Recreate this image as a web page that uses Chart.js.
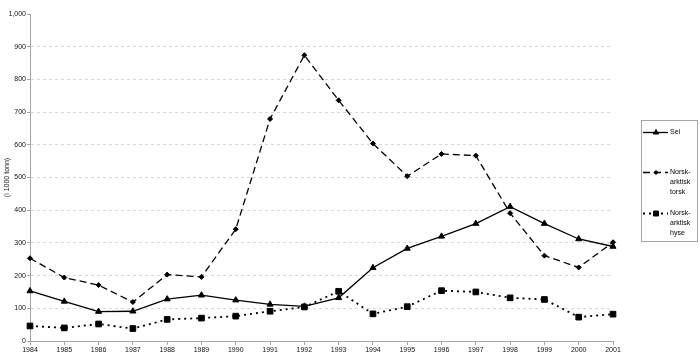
<!DOCTYPE html>
<html>
<head>
<meta charset="utf-8">
<script src="https://cdn.jsdelivr.net/npm/chart.js@4"></script>
<style>
  body { margin: 0; background: #fff; }
  #wrap { width: 700px; height: 362px; }
</style>
</head>
<body>
<div id="wrap"><canvas id="fishChart" width="700" height="362"></canvas></div>
<script>
// Data
const years = ['1984', '1985', '1986', '1987', '1988', '1989', '1990', '1991', '1992',
               '1993', '1994', '1995', '1996', '1997', '1998', '1999', '2000', '2001'];
const sei = [153, 121, 90, 91, 128, 140, 125, 112, 106, 132, 224, 283, 320, 359, 411, 359, 312, 289];
const torsk = [253, 194, 171, 119, 203, 196, 342, 679, 874, 736, 604, 504, 572, 567, 391, 261, 225, 302];
const hyse = [46, 40, 52, 38, 66, 70, 76, 91, 104, 152, 83, 105, 154, 150, 132, 127, 73, 82];
const seriesNames = [['Sei'], ['Norsk-', 'arktisk', 'torsk'], ['Norsk-', 'arktisk', 'hyse']];
const yTicks = [0, 100, 200, 300, 400, 500, 600, 700, 800, 900, 1000];
const yTitle = '(i 1000 tonn)';

const FONT = 'Liberation Sans, Arial, sans-serif';
const AXIS_GRAY = '#a6a6a6';

// Legend drawn by hand so it can use multi-line labels inside a framed box
const boxLegend = {
    id: 'boxLegend',
    afterDraw(chart) {
        const ctx = chart.ctx;
        const rowY = [132.5, 172.5, 213.5];
        ctx.save();
        ctx.strokeStyle = AXIS_GRAY;
        ctx.lineWidth = 1;
        ctx.strokeRect(641.5, 120.5, 56, 121);
        ctx.font = '7px ' + FONT;
        ctx.textBaseline = 'middle';
        ctx.textAlign = 'left';
        chart.data.datasets.forEach((ds, i) => {
            const y = rowY[i];
            ctx.save();
            ctx.strokeStyle = ds.borderColor;
            ctx.lineWidth = ds.borderWidth;
            ctx.setLineDash(ds.borderDash || []);
            ctx.beginPath();
            ctx.moveTo(643, y);
            ctx.lineTo(668, y);
            ctx.stroke();
            ctx.restore();
            ctx.save();
            ctx.fillStyle = ds.pointBackgroundColor;
            ctx.strokeStyle = ds.pointBorderColor;
            Chart.helpers.drawPoint(ctx, {
                pointStyle: ds.pointStyle,
                radius: ds.pointRadius - 0.5,
                rotation: 0,
                borderWidth: 1
            }, 656, y);
            ctx.restore();
            ctx.fillStyle = '#000';
            ds.legendLines.forEach((t, k) => ctx.fillText(t, 670, y + k * 10));
        });
        ctx.restore();
    }
};

function makeSeries(name, values, style, radius, dash, width) {
    return {
        label: name.join(' '),
        legendLines: name,
        data: values,
        borderColor: '#000',
        borderWidth: width,
        borderDash: dash,
        pointStyle: style,
        pointRadius: radius,
        pointBackgroundColor: '#000',
        pointBorderColor: '#000',
        pointBorderWidth: 1,
        tension: 0,
        fill: false
    };
}

new Chart(document.getElementById('fishChart'), {
    type: 'line',
    data: {
        labels: years,
        datasets: [
            makeSeries(seriesNames[0], sei, 'triangle', 3.5, [], 1.3),
            makeSeries(seriesNames[1], torsk, 'rectRot', 2.5, [7, 4], 1.3),
            makeSeries(seriesNames[2], hyse, 'rect', 4, [2, 4], 1.8)
        ]
    },
    options: {
        responsive: false,
        animation: false,
        devicePixelRatio: 1,
        layout: { padding: { top: 14, right: 87, left: 3, bottom: 0 } },
        plugins: {
            legend: { display: false },
            tooltip: { enabled: false }
        },
        scales: {
            x: {
                offset: false,
                grid: {
                    drawOnChartArea: false,
                    color: AXIS_GRAY,
                    tickLength: 4
                },
                border: { color: AXIS_GRAY },
                ticks: {
                    color: '#111',
                    font: { family: FONT, size: 7 },
                    maxRotation: 0,
                    autoSkip: false,
                    padding: 1
                },
                afterFit(scale) { scale.height = 21; }
            },
            y: {
                min: 0,
                max: 1000,
                afterBuildTicks(scale) { scale.ticks = yTicks.map(v => ({ value: v })); },
                grid: {
                    color: ctx => (ctx.tick && (ctx.tick.value === 0 || ctx.tick.value === 1000)) ? 'rgba(0,0,0,0)' : '#d8d8d8',
                    tickColor: AXIS_GRAY,
                    tickLength: 3
                },
                border: { color: AXIS_GRAY, dash: [3, 3] },
                ticks: {
                    color: '#111',
                    font: { family: FONT, size: 7 },
                    padding: 1
                },
                title: {
                    display: true,
                    text: yTitle,
                    color: '#111',
                    font: { family: FONT, size: 7 },
                    padding: 0
                },
                afterFit(scale) { scale.width = 27; }
            }
        }
    },
    plugins: [boxLegend]
});
</script>
</body>
</html>
